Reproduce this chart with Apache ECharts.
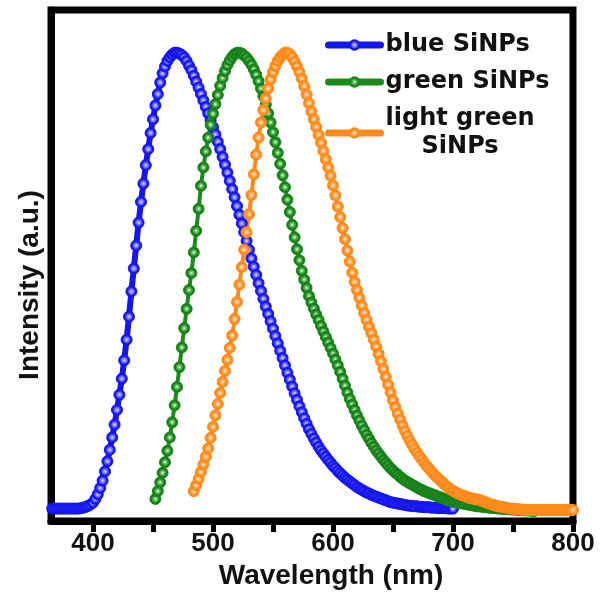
<!DOCTYPE html>
<html>
<head>
<meta charset="utf-8">
<script src="https://cdn.jsdelivr.net/npm/echarts@6/dist/echarts.min.js"></script>
<style>
  html, body { margin: 0; padding: 0; background: #fff; }
  #chart { width: 606px; height: 592px; }
</style>
</head>
<body>
<div id="chart"></div>
<script>
// Photoluminescence spectra of three silicon nanoparticle samples
// Normalised intensity sampled every 2 nm, starting at the given wavelength.
const STEP_NM = 2;

const blueStart = 366;
const blueIntensity = [
  0.007, 0.007, 0.007, 0.007, 0.007, 0.007, 0.007, 0.007, 0.007, 0.007, 0.007, 0.007,
  0.008, 0.009, 0.011, 0.013, 0.016, 0.02, 0.028, 0.038, 0.052, 0.068, 0.088, 0.11,
  0.135, 0.162, 0.19, 0.222, 0.255, 0.29, 0.33, 0.375, 0.425, 0.48, 0.53, 0.58,
  0.63, 0.675, 0.715, 0.755, 0.79, 0.825, 0.855, 0.885, 0.91, 0.935, 0.955, 0.97,
  0.982, 0.99, 0.996, 1.0, 1.0, 0.998, 0.995, 0.99, 0.982, 0.972, 0.962, 0.95,
  0.937, 0.924, 0.91, 0.896, 0.882, 0.868, 0.853, 0.838, 0.822, 0.806, 0.79, 0.773,
  0.756, 0.739, 0.721, 0.703, 0.685, 0.666, 0.647, 0.628, 0.609, 0.59, 0.571, 0.552,
  0.534, 0.516, 0.498, 0.481, 0.464, 0.447, 0.431, 0.415, 0.399, 0.383, 0.367, 0.351,
  0.335, 0.319, 0.303, 0.288, 0.273, 0.258, 0.244, 0.23, 0.217, 0.204, 0.192, 0.18,
  0.17, 0.16, 0.151, 0.142, 0.134, 0.127, 0.12, 0.113, 0.107, 0.1, 0.095, 0.089,
  0.084, 0.079, 0.074, 0.07, 0.066, 0.062, 0.058, 0.054, 0.051, 0.048, 0.045, 0.042,
  0.04, 0.037, 0.035, 0.033, 0.031, 0.029, 0.027, 0.025, 0.023, 0.021, 0.02, 0.019,
  0.018, 0.017, 0.016, 0.015, 0.014, 0.013, 0.013, 0.012, 0.012, 0.011, 0.011, 0.01,
  0.01, 0.01, 0.009, 0.009, 0.009, 0.008, 0.008, 0.008, 0.008, 0.007, 0.007, 0.007
];

const greenStart = 452;
const greenIntensity = [
  0.028, 0.045, 0.064, 0.085, 0.108, 0.133, 0.162, 0.195, 0.232, 0.272, 0.315, 0.358,
  0.4, 0.442, 0.483, 0.52, 0.565, 0.612, 0.66, 0.71, 0.75, 0.785, 0.815, 0.843,
  0.867, 0.888, 0.908, 0.928, 0.945, 0.96, 0.973, 0.983, 0.991, 0.997, 1.0, 1.0,
  0.998, 0.994, 0.989, 0.982, 0.974, 0.964, 0.952, 0.938, 0.922, 0.905, 0.887, 0.868,
  0.848, 0.827, 0.805, 0.782, 0.758, 0.733, 0.707, 0.68, 0.653, 0.625, 0.598, 0.572,
  0.548, 0.525, 0.506, 0.488, 0.47, 0.456, 0.443, 0.43, 0.418, 0.405, 0.393, 0.381,
  0.369, 0.357, 0.345, 0.332, 0.319, 0.305, 0.29, 0.275, 0.26, 0.246, 0.234, 0.222,
  0.21, 0.199, 0.188, 0.178, 0.168, 0.159, 0.15, 0.142, 0.134, 0.127, 0.12, 0.113,
  0.107, 0.101, 0.095, 0.09, 0.085, 0.081, 0.076, 0.072, 0.068, 0.065, 0.062, 0.059,
  0.056, 0.053, 0.05, 0.048, 0.045, 0.043, 0.041, 0.039, 0.037, 0.035, 0.033, 0.031,
  0.029, 0.027, 0.025, 0.024, 0.022, 0.021, 0.02, 0.019, 0.018, 0.017, 0.016, 0.015,
  0.014, 0.013, 0.012, 0.012, 0.011, 0.01, 0.01, 0.009, 0.009, 0.008, 0.008, 0.007,
  0.007, 0.006, 0.006, 0.006, 0.005, 0.005, 0.005, 0.004, 0.004, 0.004, 0.003, 0.003,
  0.003, 0.002, 0.002
];

const orangeStart = 484;
const orangeIntensity = [
  0.045, 0.058, 0.072, 0.087, 0.103, 0.12, 0.138, 0.161, 0.185, 0.21, 0.235, 0.259,
  0.283, 0.307, 0.331, 0.357, 0.384, 0.42, 0.457, 0.495, 0.533, 0.571, 0.609, 0.648,
  0.69, 0.735, 0.778, 0.815, 0.848, 0.875, 0.9, 0.922, 0.942, 0.958, 0.971, 0.982,
  0.99, 0.996, 1.0, 1.0, 0.997, 0.99, 0.981, 0.97, 0.958, 0.944, 0.927, 0.909,
  0.89, 0.872, 0.855, 0.838, 0.821, 0.804, 0.786, 0.768, 0.75, 0.732, 0.711, 0.689,
  0.665, 0.642, 0.618, 0.594, 0.569, 0.545, 0.521, 0.501, 0.483, 0.466, 0.449, 0.433,
  0.418, 0.403, 0.389, 0.375, 0.36, 0.344, 0.328, 0.311, 0.294, 0.277, 0.26, 0.243,
  0.228, 0.214, 0.201, 0.188, 0.176, 0.165, 0.155, 0.146, 0.137, 0.129, 0.121, 0.114,
  0.107, 0.1, 0.094, 0.088, 0.082, 0.077, 0.072, 0.067, 0.062, 0.057, 0.053, 0.049,
  0.046, 0.043, 0.04, 0.038, 0.036, 0.034, 0.032, 0.03, 0.029, 0.028, 0.027, 0.026,
  0.024, 0.022, 0.02, 0.018, 0.016, 0.015, 0.013, 0.012, 0.011, 0.01, 0.009, 0.008,
  0.007, 0.007, 0.006, 0.006, 0.005, 0.005, 0.004, 0.004, 0.004, 0.004, 0.004, 0.004,
  0.004, 0.004, 0.004, 0.004, 0.004, 0.004, 0.004, 0.004, 0.004, 0.004, 0.004, 0.004,
  0.004, 0.004, 0.004
];

const seriesNames = ['blue SiNPs', 'green SiNPs', 'light green\nSiNPs'];
const xTickValues = [400, 450, 500, 550, 600, 650, 700, 750, 800];
const xLabelValues = [400, 500, 600, 700, 800];

const FONT = 'Liberation Sans, Arial, sans-serif';
const LEGEND_FONT = 'DejaVu Sans, sans-serif';

function toPairs(start, values) {
  return values.map((v, i) => [start + i * STEP_NM, v]);
}

function ball(light, mid, dark) {
  return {
    type: 'radial', x: 0.5, y: 0.5, r: 0.5,
    colorStops: [
      { offset: 0, color: light },
      { offset: 0.35, color: mid },
      { offset: 0.7, color: dark },
      { offset: 1, color: dark }
    ]
  };
}

function spectrum(name, start, values, lineColor, fill, lineWidth) {
  return {
    name: name,
    type: 'line',
    data: toPairs(start, values),
    symbol: 'circle',
    symbolSize: 11,
    showSymbol: true,
    showAllSymbol: true,
    lineStyle: { color: lineColor, width: lineWidth },
    itemStyle: { color: fill, borderColor: lineColor, borderWidth: 1 },
    emphasis: { disabled: true },
    animation: false
  };
}

const chart = echarts.init(document.getElementById('chart'), null, { renderer: 'canvas' });

chart.setOption({
  backgroundColor: '#fff',
  animation: false,
  grid: {
    left: 51, right: 33, top: 10, bottom: 71,
    show: true, borderColor: '#000', borderWidth: 7,
    outerBoundsMode: 'none'
  },
  legend: {
    orient: 'vertical',
    left: 325, top: 31,
    padding: 0,
    itemGap: 9,
    itemWidth: 52,
    itemHeight: 12,
    lineStyle: { width: 7, cap: 'round' },
    textStyle: {
      fontFamily: LEGEND_FONT, fontSize: 24, fontWeight: 'bold', color: '#111', lineHeight: 28,
      rich: {
        c: { fontFamily: LEGEND_FONT, fontSize: 24, fontWeight: 'bold', color: '#111', lineHeight: 28, align: 'center' }
      }
    },
    formatter: function (name) {
      if (name.indexOf('\n') < 0) return name;
      return name.split('\n').map(function (s) { return '{c|' + s + '}'; }).join('\n');
    },
    data: seriesNames
  },
  xAxis: {
    type: 'value',
    min: 365, max: 800,
    splitLine: { show: false },
    axisLine: { show: true, onZero: false, lineStyle: { color: '#000', width: 7 } },
    axisTick: {
      show: true, inside: false, length: 11,
      customValues: xTickValues,
      lineStyle: { color: '#000', width: 5 }
    },
    axisLabel: {
      customValues: xLabelValues,
      margin: 10,
      fontFamily: FONT, fontSize: 26, fontWeight: 'bold', color: '#111'
    },
    name: 'Wavelength (nm)',
    nameLocation: 'middle',
    nameGap: 31,
    nameTextStyle: {
      fontFamily: FONT, fontSize: 28, fontWeight: 'bold', color: '#111',
      padding: [0, 0, 0, 38]
    }
  },
  yAxis: {
    type: 'value',
    min: -0.02, max: 1.093,
    splitLine: { show: false },
    axisLine: { show: true, onZero: false, lineStyle: { color: '#000', width: 7 } },
    axisTick: { show: false },
    axisLabel: { show: false },
    name: 'Intensity (a.u.)',
    nameLocation: 'middle',
    nameRotate: 90,
    nameGap: 7,
    nameTextStyle: {
      fontFamily: FONT, fontSize: 28, fontWeight: 'bold', color: '#111',
      padding: [0, 39, 0, 0]
    }
  },
  series: [
    spectrum(seriesNames[0], blueStart, blueIntensity, '#1515f0', ball('#d8d8ff', '#7a7aff', '#1515f0'), 6),
    spectrum(seriesNames[1], greenStart, greenIntensity, '#1a8a1a', ball('#e6ffe6', '#55b855', '#157a15'), 4),
    spectrum(seriesNames[2], orangeStart, orangeIntensity, '#ff8a1a', ball('#fff0dc', '#ffb060', '#ff8a1a'), 4)
  ]
});
</script>
</body>
</html>
